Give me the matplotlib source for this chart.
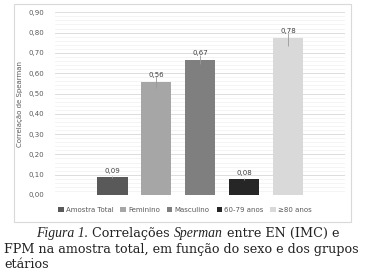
import matplotlib
matplotlib.use("Agg")
import matplotlib.pyplot as plt
from matplotlib.patches import Rectangle
import numpy as np

categories = ["Amostra Total", "Feminino", "Masculino", "60-79 anos", "≥80 anos"]
values = [0.09, 0.555, 0.665, 0.08, 0.772]
labels = ["0,09", "0,56", "0,67", "0,08", "0,78"]
err_low = [0.004, 0.028, 0.02, 0.004, 0.04]
err_high = [0.004, 0.03, 0.025, 0.004, 0.028]
colors = ["#595959", "#a6a6a6", "#7f7f7f", "#262626", "#d9d9d9"]
yticks = np.arange(0, 0.91, 0.10)

W, H = 366, 280
fig = plt.figure(figsize=(W / 100, H / 100), dpi=100)
fig.patch.set_facecolor("white")

# chart frame
fig.patches.append(Rectangle((14 / W, 1 - 222 / H), (351 - 14) / W, (222 - 4) / H,
                             transform=fig.transFigure, fill=False,
                             edgecolor="#d9d9d9", linewidth=0.8))

ax = fig.add_axes([55 / W, 1 - 195 / H, (345 - 55) / W, (195 - 12.3) / H])
x = np.arange(len(categories))
ax.set_xlim(-1.3, 5.3)
ax.set_ylim(0, 0.9)

for v in np.arange(0.02, 0.9, 0.02):
    ax.axhline(v, color="#f0f0f0", linewidth=0.5, zorder=0)
for v in yticks:
    ax.axhline(v, color="#d9d9d9", linewidth=0.6, zorder=0.5)

for i in range(len(categories)):
    ax.bar(x[i], values[i], width=0.7, color=colors[i], zorder=2, label=categories[i])
    ax.errorbar(x[i], values[i], yerr=[[err_low[i]], [err_high[i]]], fmt="none",
                ecolor="#999999", elinewidth=0.6, capsize=0, zorder=3)
    ax.annotate(labels[i], (x[i], values[i] + err_high[i] * 0.3), xytext=(0, 2),
                textcoords="offset points", ha="center", va="bottom",
                fontsize=5, color="#404040", zorder=4)

ax.set_yticks(yticks)
ax.set_yticklabels([f"{v:.2f}".replace(".", ",") for v in yticks], fontsize=5, color="#595959")
ax.set_xticks([])
ax.tick_params(axis="y", length=0, pad=8)
for s in ax.spines.values():
    s.set_visible(False)
ax.set_ylabel("Correlação de Spearman", fontsize=5, color="#595959", labelpad=4)

ax.legend(loc="center", bbox_to_anchor=(185 / W, 1 - 210 / H), bbox_transform=fig.transFigure,
          ncol=5, frameon=False, fontsize=5, handlelength=0.8, handleheight=0.8,
          handletextpad=0.3, columnspacing=1.0, labelcolor="#595959")

serif = ["DejaVu Serif"]
serif_it = ["Liberation Serif"]
renderer = fig.canvas.get_renderer()

# fit caption font size so line 2 spans ~358 px
line2 = "FPM na amostra total, em função do sexo e dos grupos"
probe = fig.text(0, 0, line2, fontsize=10, family=serif)
w10 = probe.get_window_extent(renderer=renderer).width
probe.remove()
fs = 10 * 358 / w10

fig.text(4 / W, 1 - 249 / H, line2, fontsize=fs, family=serif, va="center", color="#222222")
fig.text(4 / W, 1 - 265 / H, "etários", fontsize=fs, family=serif, va="center", color="#222222")

parts = [("Figura 1.", "italic"), (" Correlações ", "normal"), ("Sperman", "italic"),
         (" entre EN (IMC) e", "normal")]
texts = []
total = 0
for txt, style in parts:
    fam = serif_it if style == "italic" else serif
    size = fs * 1.08 if style == "italic" else fs
    t = fig.text(0, 1 - 233 / H, txt, fontsize=size, family=fam, style=style, va="center",
                 color="#222222")
    total += t.get_window_extent(renderer=renderer).width
    texts.append(t)
xpos = 187.5 - total / 2
for t in texts:
    t.set_x(xpos / W)
    xpos += t.get_window_extent(renderer=renderer).width

fig.savefig("out.png", dpi=100)
